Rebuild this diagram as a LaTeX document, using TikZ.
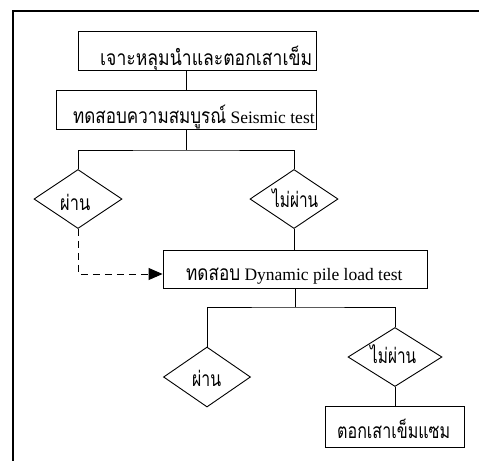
\documentclass[tikz,border=0pt]{standalone}
\usepackage{fontspec}
\usepackage{graphicx}
\setmainfont{Liberation Serif}
\newfontfamily\thai[Script=Thai,Scale=1.2]{Loma}
\usetikzlibrary{arrows.meta,shapes.geometric}
\newdimen\thw
\newcommand\thx[2]{\settowidth\thw{\thai #2}\scalebox{\fpeval{#1/\thw}}[1]{\thai #2}}
\tikzset{
  box/.style={draw, rectangle, inner sep=0pt, line width=0.9pt},
  dia/.style={draw, diamond, inner sep=0pt, line width=0.9pt},
  txt/.style={anchor=base west, inner sep=0pt, font=\fontsize{17.5}{20}\selectfont},
  link/.style={line width=0.9pt},
  dlink/.style={line width=0.9pt, dash pattern=on 7pt off 5pt, -{Triangle[length=14pt,width=12pt]}},
}
\begin{document}
\begin{tikzpicture}[x=1pt,y=-1pt]
\useasboundingbox (0,0) rectangle (479,461);
\draw[line width=1.3pt] (479,11) -- (13,11) -- (13,461);

\node[box, minimum width=238, minimum height=39] (b1) at (197,50.5) {};
\node[box, minimum width=260, minimum height=39] (b2) at (186,109.5) {};
\node[dia, minimum width=88, minimum height=59] (d1) at (78,199) {};
\node[dia, minimum width=88, minimum height=59] (d2) at (294,199) {};
\node[box, minimum width=264, minimum height=38] (b3) at (295,269) {};
\node[dia, minimum width=87, minimum height=60] (d3) at (207,377) {};
\node[dia, minimum width=94, minimum height=59] (d4) at (395,357) {};
\node[box, minimum width=139, minimum height=41] (b4) at (394.5,426.5) {};

\coordinate (j1) at (186,150);
\coordinate (j2) at (295,307);

\draw[link] (b2.north |- b1.south) -- (b2.north);
\draw[link] (b2.south) -- (j1);
\draw[link] (d1.north) |- (j1) -| (d2.north);
\draw[dlink] (d1.south) |- ([yshift=-5pt]b3.west);
\draw[link] (d2.south) -- (d2.south |- b3.north);
\draw[link] (b3.south) -- (j2);
\draw[link] (d3.north) |- (j2) -| (d4.north);
\draw[link] (d4.south) -- (d4.south |- b4.north);

\node[txt] (t1) at (100,65) {\thx{212pt}{เจาะหลุมนำและตอกเสาเข็ม}};
\node[txt] (t2) at (73,123) {\thx{153pt}{ทดสอบความสมบูรณ์} Seismic test};
\node[txt] (t3) at (186,280) {\thx{54pt}{ทดสอบ} Dynamic pile load test};
\node[txt] (t4) at (337,438) {\thx{113pt}{ตอกเสาเข็มแซม}};
\node[txt] (t5) at (60,210) {\thx{30pt}{ผ่าน}};
\node[txt] (t6) at (272,207) {\thx{46pt}{ไม่ผ่าน}};
\node[txt] (t7) at (192,386) {\thx{29pt}{ผ่าน}};
\node[txt] (t8) at (370,363) {\thx{46pt}{ไม่ผ่าน}};
\end{tikzpicture}
\end{document}
